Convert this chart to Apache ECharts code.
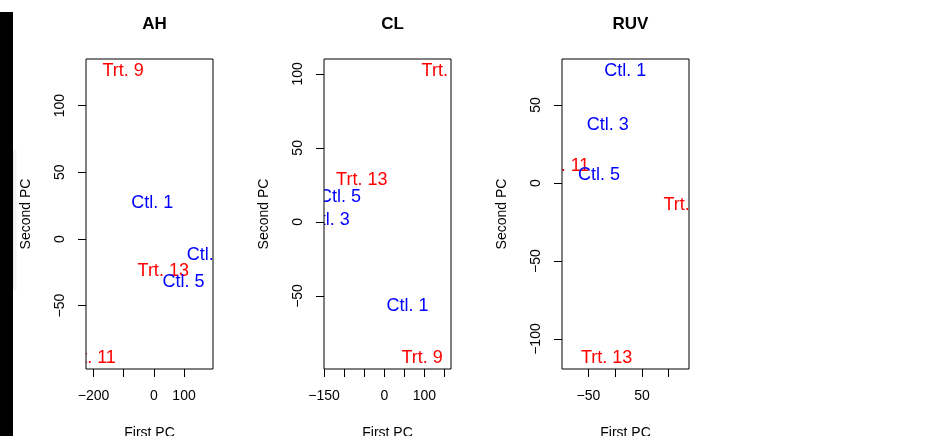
<!DOCTYPE html>
<html>
<head>
<meta charset="utf-8">
<title>PCA panels</title>
<script src="https://cdn.jsdelivr.net/npm/echarts@6/dist/echarts.min.js"></script>
<style>
  html, body { margin: 0; padding: 0; background: #fff; }
  #chart { width: 925px; height: 436px; }
</style>
</head>
<body>
<div id="chart"></div>
<script>
// panel titles
const panels = ["AH", "CL", "RUV"];

// sample labels, first PC, second PC (per panel)
const ahNames = ["Trt. 9", "Ctl. 1", "Ctl. 3", "Trt. 13", "Ctl. 5", "Trt. 11"];
const ahX = [-102, -5, 179, 31, 98, -209];
const ahY = [126, 27, -12, -24, -32, -89];

const clNames = ["Trt. 11", "Trt. 13", "Ctl. 5", "Ctl. 3", "Ctl. 1", "Trt. 9"];
const clX = [155, -56, -110, -138, 58, 94];
const clY = [102, 28, 17, 1, -57, -92];

const ruvNames = ["Ctl. 1", "Ctl. 3", "Trt. 11", "Ctl. 5", "Trt. 9", "Trt. 13"];
const ruvX = [19, -14, -95, -30, 129, -16];
const ruvY = [72, 37, 11, 5, -14, -112];

// axis extents
const xRanges = [[-225, 196], [-150, 166], [-99.4, 138]];
const yRanges = [[-97.5, 135], [-99.3, 110], [-119.2, 79.5]];

// ticks and tick labels
const xTicks = [[-200, -100, 0, 100], [-150, -100, -50, 0, 50, 100, 150], [-50, 0, 50, 100]];
const xTickLabels = [[-200, 0, 100], [-150, 0, 100], [-50, 50]];
const yTicks = [[-50, 0, 50, 100], [-50, 0, 50, 100], [-100, -50, 0, 50]];
const yTickLabels = [[-50, 0, 50, 100], [-50, 0, 50, 100], [-100, -50, 0, 50]];

const names = [ahNames, clNames, ruvNames];
const xs = [ahX, clX, ruvX];
const ys = [ahY, clY, ruvY];

const FONT = "'Liberation Sans', Arial, Helvetica, sans-serif";
const gridLefts = [86, 324, 562];
const GRID_W = 127;
const GRID_TOP = 59;
const GRID_H = 310;

function minus(v) {
  return String(v).replace("-", "\u2212");
}

const grids = [], xAxes = [], yAxes = [], titles = [], series = [];

panels.forEach(function (p, i) {
  grids.push({
    left: gridLefts[i], top: GRID_TOP, width: GRID_W, height: GRID_H,
    outerBoundsMode: "none", //不要自动缩小网格
    show: true, borderColor: "#000", borderWidth: 1, backgroundColor: "transparent",
    z: 10
  });
  titles.push({
    text: p,
    left: gridLefts[i] + GRID_W / 2,
    textAlign: "center",
    top: 11,
    textStyle: { fontFamily: FONT, fontSize: 17, fontWeight: "bold", color: "#000" }
  });
  xAxes.push({
    gridIndex: i, type: "value",
    min: xRanges[i][0], max: xRanges[i][1],
    splitLine: { show: false },
    axisLine: { show: false, onZero: false },
    axisTick: { show: true, length: 8, customValues: xTicks[i], lineStyle: { color: "#000", width: 1 } },
    axisLabel: {
      customValues: xTickLabels[i], margin: 20,
      fontFamily: FONT, fontSize: 14, color: "#000",
      formatter: minus
    },
    name: "First PC", nameLocation: "middle", nameGap: 57,
    nameTextStyle: { fontFamily: FONT, fontSize: 14, color: "#000" },
    z: 10
  });
  yAxes.push({
    gridIndex: i, type: "value",
    min: yRanges[i][0], max: yRanges[i][1],
    splitLine: { show: false },
    axisLine: { show: false, onZero: false },
    axisTick: { show: true, length: 8, customValues: yTicks[i], lineStyle: { color: "#000", width: 1 } },
    axisLabel: {
      customValues: yTickLabels[i], margin: 19, rotate: 90,
      fontFamily: FONT, fontSize: 14, color: "#000",
      formatter: minus
    },
    name: "Second PC", nameLocation: "middle", nameGap: 53,
    nameTextStyle: { fontFamily: FONT, fontSize: 14, color: "#000" },
    z: 10
  });
  // text labels at the points, clipped to the plot box like R's text()
  series.push({
    type: "custom",
    xAxisIndex: i, yAxisIndex: i,
    clip: true,
    data: xs[i].map(function (x, k) { return [x, ys[i][k], names[i][k]]; }),
    renderItem: function (params, api) {
      const pt = api.coord([api.value(0), api.value(1)]);
      const label = names[i][params.dataIndex];
      return {
        type: "text",
        x: pt[0], y: pt[1],
        style: {
          text: label,
          fill: label.indexOf("Trt") === 0 ? "#FF0000" : "#0000FF",
          font: "18px " + FONT,
          align: "center",
          verticalAlign: "middle"
        }
      };
    },
    z: 2
  });
});

const chart = echarts.init(document.getElementById("chart"));
chart.setOption({
  animation: false,
  backgroundColor: "#fff",
  title: titles,
  grid: grids,
  xAxis: xAxes,
  yAxis: yAxes,
  series: series,
  graphic: [
    // black strip on the left edge
    { type: "rect", left: 0, top: 12, shape: { width: 13, height: 424 }, style: { fill: "#000" }, z: 20 },
    {
      type: "rect", left: 13, top: 150, shape: { width: 5, height: 140 },
      style: {
        fill: new echarts.graphic.LinearGradient(0, 0, 1, 0, [
          { offset: 0, color: "rgba(0,0,0,0.08)" },
          { offset: 1, color: "rgba(0,0,0,0)" }
        ])
      },
      z: 20
    }
  ]
});
</script>
</body>
</html>
